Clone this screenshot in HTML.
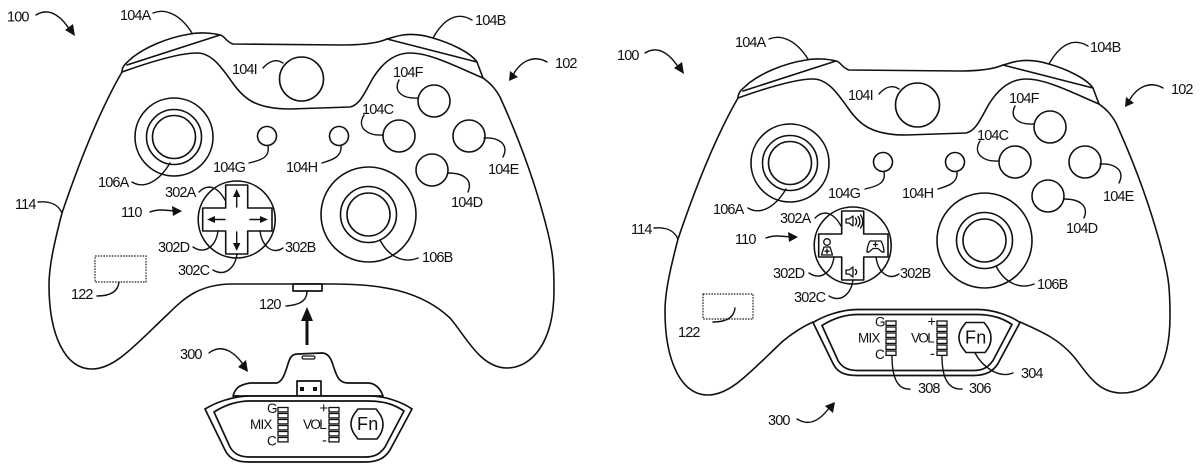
<!DOCTYPE html>
<html><head><meta charset="utf-8"><style>
html,body{margin:0;padding:0;background:#fff;width:1200px;height:470px;overflow:hidden}
svg{display:block}
text{font-family:"Liberation Sans",sans-serif;font-size:14.5px;letter-spacing:-.85px;fill:#111}
.s{font-size:13.5px;letter-spacing:-.8px}
.f{font-size:18px;letter-spacing:.2px}
.b{fill:#fff;stroke:#111;stroke-width:1.7;stroke-linejoin:round}
.l{fill:none;stroke:#111;stroke-width:1.6;stroke-linecap:round;stroke-linejoin:round}
.t{fill:none;stroke:#111;stroke-width:1.4;stroke-linecap:round}
.a{fill:#111;stroke:none}
</style></head><body>
<svg width="1200" height="470" viewBox="0 0 1200 470" xmlns="http://www.w3.org/2000/svg">
<defs>
<g id="top">
<path class="l" d="M127 65L220 35M387 39L477 62M483 78L477 62C470 52 450 43 433 38C420 34 410 34 403 35C395 36 392 38 387 39C378 43 365 45 343 45L233 44C226 42 224 35 220 35C212 33 200 32 190 34C165 38 145 48 133 57C128 62 122 65 122 72"/>
<path class="l" d="M122 72C150 62 180 53 197 53C212 53 222 68 232 82C243 98 255 109 290 109L350 107C360 105 365 92 373 78C383 62 395 53 410 53C430 53 455 66 483 78"/>
<g class="l">
<circle cx="301.5" cy="79" r="22"/>
<circle cx="174" cy="137" r="39"/><circle cx="174" cy="137" r="27.5"/><circle cx="174" cy="137" r="21.5"/>
<circle cx="267" cy="136" r="9.5"/><circle cx="339" cy="136" r="9.5"/>
<circle cx="434" cy="101" r="16"/><circle cx="399" cy="136" r="16"/><circle cx="469" cy="136" r="16"/><circle cx="432" cy="170" r="16"/>
<circle cx="368.5" cy="214.5" r="47.5"/><circle cx="368.5" cy="214.5" r="28"/><circle cx="368.5" cy="214.5" r="21.5"/>
<circle cx="236.7" cy="219.5" r="38.5"/>
<path d="M225.7 208V185H247.7V208H272V231H247.7V254H225.7V231H202.7V208Z"/>
</g>
<g class="t">
<path d="M153 13C165 8 180 14 192 33"/>
<path d="M263 68C270 60 277 59 283 63"/>
<path d="M132 182C145 190 160 180 170 163"/>
<path d="M249 163C262 160 270 157 268 146"/>
<path d="M199 192C208 183 218 187 225 200"/>
<path d="M150 212C158 209 165 210 174 211"/>
<path d="M38 202C50 201 58 204 62 213"/>
<path d="M472 20C455 10 442 22 433 38"/>
<path d="M547 62C533 54 520 62 513 75"/>
<path d="M399 80C393 92 403 99 418 98"/>
<path d="M364 115C356 128 368 136 383 135"/>
<path d="M322 163C332 160 342 157 341 146"/>
<path d="M484 138C500 137 509 145 503 157"/>
<path d="M448 173C464 173 473 180 468 192"/>
<path d="M380 240C388 256 403 264 418 258"/>
<path d="M193 247C205 255 216 246 218 231"/>
<path d="M283 248C272 255 262 246 260 231"/>
<path d="M213 270C225 277 235 268 237 254"/>
<path d="M119 282C118 292 110 296 97 296"/>
</g>
<polygon class="a" points="182,211 172,206 173,216"/>
<polygon class="a" points="509,81 510,71 518,77"/>
</g>
<g id="face">
<path class="b" d="M205 409C215 403 232 396 250 396L370 396C385 396 402 402 412 409L390 450C385 458 378 462 365 462L249 462C235 462 229 458 225 450Z"/>
<path class="b" d="M214 412C225 405 238 401 250 401L368 401C385 401 395 405 404 411L385 447C380 454 375 457 365 457L250 457C240 457 234 454 230 447Z"/>
<g fill="#fff" stroke="#111" stroke-width="1.3">
<rect x="278" y="407.5" width="10" height="4.4"/><rect x="278" y="413.5" width="10" height="4.4"/><rect x="278" y="419.5" width="10" height="4.4"/><rect x="278" y="425.5" width="10" height="4.4"/><rect x="278" y="431.5" width="10" height="4.4"/><rect x="278" y="437.5" width="10" height="4.4"/>
<rect x="329" y="407.5" width="10" height="4.4"/><rect x="329" y="413.5" width="10" height="4.4"/><rect x="329" y="419.5" width="10" height="4.4"/><rect x="329" y="425.5" width="10" height="4.4"/><rect x="329" y="431.5" width="10" height="4.4"/><rect x="329" y="437.5" width="10" height="4.4"/>
</g>
<path class="l" d="M358 409L376 409C381 415 383 419 383 424C383 430 381 434 377 439L358 439C354 434 351 430 351 424C351 418 354 414 358 409Z"/>
</g>
<path id="spk" d="M0 3H3L7 0V10L3 7H0Z" fill="#fff" stroke="#111" stroke-width="1.3" stroke-linejoin="round"/>
</defs>

<!-- LEFT -->
<use href="#top"/>
<path class="l" d="M122 72C100 110 80 160 62 213C55 240 49 265 49 285C49 335 65 369 92 369C115 369 135 345 167 315C185 297 200 284 233 284L333 284C380 284 420 290 450 318C465 335 480 368 507 368C530 368 554 345 554 290C554 260 552 250 548 233C535 180 515 130 500 97C495 88 490 83 483 78"/>
<rect class="b" x="293" y="284" width="29" height="7"/>
<path class="t" d="M286 306C298 305 307 302 307 291"/>
<g class="l" style="stroke-width:1.4">
<path d="M236.7 207V195M236.7 232V245M225 219.5H213M250 219.5H262"/>
</g>
<g class="a">
<polygon points="236.7,189 233,197 240.4,197"/><polygon points="236.7,251 233,243 240.4,243"/>
<polygon points="207,219.5 215,216 215,223"/><polygon points="268,219.5 260,216 260,223"/>
<polygon points="75,36 65,30 73,24"/>
<polygon points="248,372 238,367 246,360"/>
<polygon points="307,307 301,321 313,321"/>
<rect x="305.5" y="320" width="3" height="25"/>
</g>
<path class="t" d="M36 15C50 6 63 18 71 32"/>
<path class="t" d="M209 353C222 343 235 352 245 367"/>
<rect x="95" y="256" width="51" height="26" fill="none" stroke="#222" stroke-width="1.2" stroke-dasharray="1.6 1.2"/>
<path class="b" d="M233 396C235 389 238 385 250 383L277 383C283 381 285 373 288 364C290 357 292 354 298 354L322 353C328 353 331 358 333 365C336 374 338 383 348 383L368 383C376 383 381 390 383 396Z"/>
<rect x="302" y="356" width="13" height="3" rx="1.5" fill="#fff" stroke="#111" stroke-width="1.2"/>
<rect class="b" x="297" y="381" width="24" height="15"/>
<rect class="a" x="300" y="387" width="4" height="4"/><rect class="a" x="313" y="387" width="4" height="4"/>
<use href="#face"/>
<text class="s" x="267" y="413">G</text><text class="s" x="250" y="429">MIX</text><text class="s" x="267" y="445.5">C</text>
<text x="319.5" y="413">+</text><text class="s" x="303" y="429" style="letter-spacing:-1.6px">VOL</text><text x="322" y="445">-</text>
<text class="f" x="357" y="430">Fn</text>
<text x="7" y="21.5">100</text><text x="120" y="20">104A</text><text x="232" y="74">104I</text><text x="213" y="172">104G</text><text x="98" y="187">106A</text><text x="165" y="197">302A</text><text x="121" y="217">110</text><text x="15" y="209">114</text><text x="475" y="25">104B</text><text x="555" y="68">102</text><text x="393" y="77">104F</text><text x="362" y="114">104C</text><text x="286" y="172">104H</text><text x="488" y="174">104E</text><text x="451" y="207">104D</text><text x="158" y="252">302D</text><text x="178" y="275">302C</text><text x="71" y="299">122</text><text x="259" y="309">120</text><text x="180" y="359">300</text><text x="285" y="252">302B</text><text x="422" y="262">106B</text>

<!-- RIGHT -->
<g transform="translate(616 26)">
<use href="#top"/>
<path class="l" d="M122 72C100 110 80 160 62 213C55 240 49 265 49 285C49 335 65 369 92 369C115 369 135 345 167 315C178 306 188 300 197 296"/>
<path class="l" d="M404 296C429 307 444 314 459 332C474 352 484 367 506 367C534 367 554 344 554 290C554 260 552 250 548 233C535 180 515 130 500 97C495 88 490 83 483 78"/>
</g>
<g transform="translate(608 -86.5)"><use href="#face"/></g>
<path class="t" d="M892 356C892 372 895 390 910 389"/>
<path class="t" d="M942 356C942 372 945 390 962 389"/>
<path class="t" d="M975 353C982 366 998 379 1013 373"/>
<g transform="translate(609 38)">
<polygon class="a" points="75,36 65,30 73,24"/>
<path class="t" d="M36 15C50 6 63 18 71 32"/>
</g>
<polygon class="a" points="835,402 825,406 833,413"/>
<path class="t" d="M797 419C810 427 820 420 830 407"/>
<rect x="703" y="294" width="50" height="25" fill="none" stroke="#222" stroke-width="1.2" stroke-dasharray="1.6 1.2"/>
<!-- D-pad icons -->
<use href="#spk" x="846" y="216"/>
<path class="t" d="M855.5 218C857 220 857 223 855.5 225M858 216.5C860.5 219.5 860.5 223.5 858 226.5M860.5 215C863.5 219 863.5 224 860.5 228"/>
<use href="#spk" x="846" y="267"/>
<path class="t" d="M855.5 269.5C857 271 857 273 855.5 274.5"/>
<circle cx="827" cy="242" r="3.3" fill="none" stroke="#111" stroke-width="1.3"/>
<path class="l" style="stroke-width:1.3" d="M824 247H830L832.5 255H821.5ZM827 249V253.5M825 251.2H829"/>
<path class="l" style="stroke-width:1.3" d="M870 241H881C883 244 884 249 884 252C882 253 880 250 878 248.5H873C871 250 869 253 867 252C867 249 868 244 870 241ZM875.5 242.5V246.5M873.5 244.5H877.5"/>
<text class="s" x="875" y="326.5">G</text><text class="s" x="858" y="342.5">MIX</text><text class="s" x="875" y="359">C</text>
<text x="927.5" y="326.5">+</text><text class="s" x="911" y="342.5" style="letter-spacing:-1.6px">VOL</text><text x="930" y="358.5">-</text>
<text class="f" x="965" y="343.5">Fn</text>
<text x="617" y="60">100</text><text x="735" y="47">104A</text><text x="848" y="100">104I</text><text x="828" y="198">104G</text><text x="713" y="214">106A</text><text x="780" y="223">302A</text><text x="735" y="244">110</text><text x="631" y="234">114</text><text x="1090" y="52">104B</text><text x="1171" y="94">102</text><text x="1009" y="103">104F</text><text x="977" y="140">104C</text><text x="902" y="198">104H</text><text x="1103" y="201">104E</text><text x="1066" y="233">104D</text><text x="773" y="278">302D</text><text x="794" y="302">302C</text><text x="678" y="337">122</text><text x="768" y="425">300</text><text x="900" y="278">302B</text><text x="1037" y="289">106B</text><text x="1021" y="378">304</text><text x="918" y="393">308</text><text x="969" y="393">306</text>
</svg>
</body></html>
